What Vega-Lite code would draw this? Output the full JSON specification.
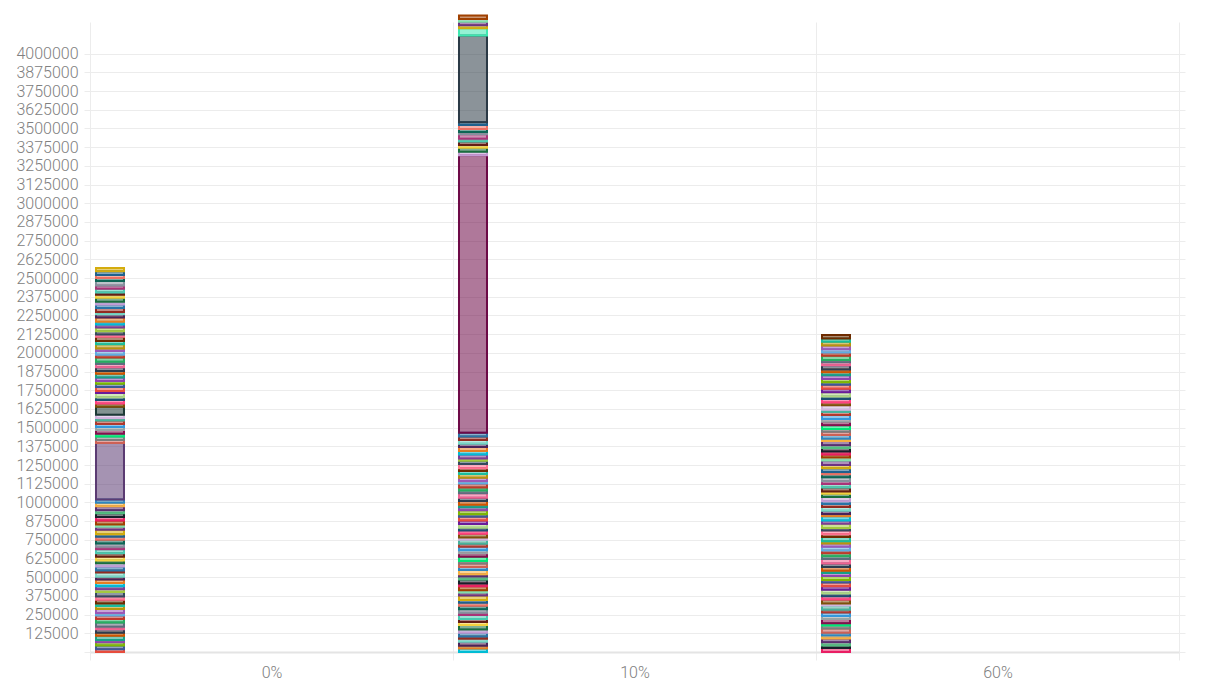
{
"$schema": "https://vega.github.io/schema/vega-lite/v6.json",
"autosize": {"type": "none"},
"padding": {"left": 90, "top": 22, "right": 30, "bottom": 28},
"width": 1089,
"height": 630,
"config": {"view": {"stroke": null}, "axis": {"labelFont": "Roboto", "labelFontSize": 16, "labelFontWeight": 300, "labelColor": "#808080"}},
"resolve": {"axis": {"y": "independent"}},
"layer": [
{
"data": {"values": [
{"x":"0%","k":1,"c":"t0","v":18000},{"x":"0%","k":2,"c":"t1","v":26000},{"x":"0%","k":3,"c":"t2","v":21000},{"x":"0%","k":4,"c":"t3","v":15000},{"x":"0%","k":5,"c":"t4","v":29000},{"x":"0%","k":6,"c":"t5","v":19000},{"x":"0%","k":7,"c":"t6","v":24000},{"x":"0%","k":8,"c":"t7","v":17000},{"x":"0%","k":9,"c":"t8","v":28000},{"x":"0%","k":10,"c":"t9","v":23000},
{"x":"0%","k":11,"c":"t10","v":24000},{"x":"0%","k":12,"c":"t11","v":17000},{"x":"0%","k":13,"c":"t12","v":27000},{"x":"0%","k":14,"c":"t13","v":20000},{"x":"0%","k":15,"c":"t14","v":16000},{"x":"0%","k":16,"c":"t15","v":25000},{"x":"0%","k":17,"c":"t16","v":22000},{"x":"0%","k":18,"c":"t17","v":30000},{"x":"0%","k":19,"c":"t18","v":19000},{"x":"0%","k":20,"c":"t19","v":20000},
{"x":"0%","k":21,"c":"t20","v":21000},{"x":"0%","k":22,"c":"t21","v":23000},{"x":"0%","k":23,"c":"t22","v":19000},{"x":"0%","k":24,"c":"t23","v":28000},{"x":"0%","k":25,"c":"t24","v":14000},{"x":"0%","k":26,"c":"t25","v":26000},{"x":"0%","k":27,"c":"t26","v":22000},{"x":"0%","k":28,"c":"t27","v":18000},{"x":"0%","k":29,"c":"t28","v":25000},{"x":"0%","k":30,"c":"t29","v":24000},
{"x":"0%","k":31,"c":"t30","v":27000},{"x":"0%","k":32,"c":"t31","v":16000},{"x":"0%","k":33,"c":"t32","v":22000},{"x":"0%","k":34,"c":"t33","v":25000},{"x":"0%","k":35,"c":"t34","v":20000},{"x":"0%","k":36,"c":"t35","v":18000},{"x":"0%","k":37,"c":"t36","v":29000},{"x":"0%","k":38,"c":"t37","v":21000},{"x":"0%","k":39,"c":"t38","v":15000},{"x":"0%","k":40,"c":"t39","v":27000},
{"x":"0%","k":41,"c":"t40","v":22000},{"x":"0%","k":42,"c":"t41","v":25000},{"x":"0%","k":43,"c":"t42","v":20000},{"x":"0%","k":44,"c":"t43","v":27000},{"x":"0%","k":45,"c":"t44","v":24000},{"x":"0%","k":46,"c":"t45","v":22000},
{"x":"0%","k":47,"c":"A","v":378000},
{"x":"0%","k":48,"c":"t46","v":20000},{"x":"0%","k":49,"c":"t47","v":23000},{"x":"0%","k":50,"c":"t48","v":18000},{"x":"0%","k":51,"c":"t49","v":25000},{"x":"0%","k":52,"c":"t50","v":21000},{"x":"0%","k":53,"c":"t51","v":19000},{"x":"0%","k":54,"c":"t52","v":24000},{"x":"0%","k":55,"c":"t53","v":17000},{"x":"0%","k":56,"c":"t54","v":22000},
{"x":"0%","k":57,"c":"B","v":53000},
{"x":"0%","k":58,"c":"t55","v":21000},{"x":"0%","k":59,"c":"t56","v":23000},{"x":"0%","k":60,"c":"t57","v":19000},{"x":"0%","k":61,"c":"t58","v":28000},{"x":"0%","k":62,"c":"t59","v":14000},{"x":"0%","k":63,"c":"t0","v":26000},{"x":"0%","k":64,"c":"t1","v":22000},{"x":"0%","k":65,"c":"t2","v":18000},{"x":"0%","k":66,"c":"t3","v":25000},{"x":"0%","k":67,"c":"t4","v":24000},
{"x":"0%","k":68,"c":"t5","v":18000},{"x":"0%","k":69,"c":"t6","v":26000},{"x":"0%","k":70,"c":"t7","v":21000},{"x":"0%","k":71,"c":"t8","v":15000},{"x":"0%","k":72,"c":"t9","v":29000},{"x":"0%","k":73,"c":"t10","v":19000},{"x":"0%","k":74,"c":"t11","v":24000},{"x":"0%","k":75,"c":"t12","v":17000},{"x":"0%","k":76,"c":"t13","v":28000},{"x":"0%","k":77,"c":"t14","v":23000},
{"x":"0%","k":78,"c":"t15","v":27000},{"x":"0%","k":79,"c":"t16","v":16000},{"x":"0%","k":80,"c":"t17","v":22000},{"x":"0%","k":81,"c":"t18","v":25000},{"x":"0%","k":82,"c":"t19","v":20000},{"x":"0%","k":83,"c":"t20","v":18000},{"x":"0%","k":84,"c":"t21","v":29000},{"x":"0%","k":85,"c":"t22","v":21000},{"x":"0%","k":86,"c":"t23","v":15000},{"x":"0%","k":87,"c":"t24","v":27000},
{"x":"0%","k":88,"c":"t25","v":24000},{"x":"0%","k":89,"c":"t26","v":17000},{"x":"0%","k":90,"c":"t27","v":27000},{"x":"0%","k":91,"c":"t28","v":20000},{"x":"0%","k":92,"c":"t29","v":16000},{"x":"0%","k":93,"c":"t30","v":25000},{"x":"0%","k":94,"c":"t31","v":22000},{"x":"0%","k":95,"c":"t32","v":30000},{"x":"0%","k":96,"c":"t33","v":19000},{"x":"0%","k":97,"c":"t34","v":20000},
{"x":"0%","k":98,"c":"t35","v":25000},{"x":"0%","k":99,"c":"t36","v":22000},
{"x":"10%","k":101,"c":"t20","v":24000},{"x":"10%","k":102,"c":"t21","v":17000},{"x":"10%","k":103,"c":"t22","v":27000},{"x":"10%","k":104,"c":"t23","v":20000},{"x":"10%","k":105,"c":"t24","v":16000},{"x":"10%","k":106,"c":"t25","v":25000},{"x":"10%","k":107,"c":"t26","v":22000},{"x":"10%","k":108,"c":"t27","v":30000},{"x":"10%","k":109,"c":"t28","v":19000},{"x":"10%","k":110,"c":"t29","v":20000},
{"x":"10%","k":111,"c":"t30","v":27000},{"x":"10%","k":112,"c":"t31","v":16000},{"x":"10%","k":113,"c":"t32","v":22000},{"x":"10%","k":114,"c":"t33","v":25000},{"x":"10%","k":115,"c":"t34","v":20000},{"x":"10%","k":116,"c":"t35","v":18000},{"x":"10%","k":117,"c":"t36","v":29000},{"x":"10%","k":118,"c":"t37","v":21000},{"x":"10%","k":119,"c":"t38","v":15000},{"x":"10%","k":120,"c":"t39","v":27000},
{"x":"10%","k":121,"c":"t40","v":18000},{"x":"10%","k":122,"c":"t41","v":26000},{"x":"10%","k":123,"c":"t42","v":21000},{"x":"10%","k":124,"c":"t43","v":15000},{"x":"10%","k":125,"c":"t44","v":29000},{"x":"10%","k":126,"c":"t45","v":19000},{"x":"10%","k":127,"c":"t46","v":24000},{"x":"10%","k":128,"c":"t47","v":17000},{"x":"10%","k":129,"c":"t48","v":28000},{"x":"10%","k":130,"c":"t49","v":23000},
{"x":"10%","k":131,"c":"t50","v":21000},{"x":"10%","k":132,"c":"t51","v":23000},{"x":"10%","k":133,"c":"t52","v":19000},{"x":"10%","k":134,"c":"t53","v":28000},{"x":"10%","k":135,"c":"t54","v":14000},{"x":"10%","k":136,"c":"t55","v":26000},{"x":"10%","k":137,"c":"t56","v":22000},{"x":"10%","k":138,"c":"t57","v":18000},{"x":"10%","k":139,"c":"t58","v":25000},{"x":"10%","k":140,"c":"t59","v":24000},
{"x":"10%","k":141,"c":"t0","v":24000},{"x":"10%","k":142,"c":"t1","v":17000},{"x":"10%","k":143,"c":"t2","v":27000},{"x":"10%","k":144,"c":"t3","v":20000},{"x":"10%","k":145,"c":"t4","v":16000},{"x":"10%","k":146,"c":"t5","v":25000},{"x":"10%","k":147,"c":"t6","v":22000},{"x":"10%","k":148,"c":"t7","v":30000},{"x":"10%","k":149,"c":"t8","v":19000},{"x":"10%","k":150,"c":"t9","v":20000},
{"x":"10%","k":151,"c":"t10","v":27000},{"x":"10%","k":152,"c":"t11","v":16000},{"x":"10%","k":153,"c":"t12","v":22000},{"x":"10%","k":154,"c":"t13","v":25000},{"x":"10%","k":155,"c":"t14","v":20000},{"x":"10%","k":156,"c":"t15","v":18000},{"x":"10%","k":157,"c":"t16","v":29000},{"x":"10%","k":158,"c":"t17","v":21000},{"x":"10%","k":159,"c":"t18","v":15000},{"x":"10%","k":160,"c":"t19","v":27000},
{"x":"10%","k":161,"c":"t20","v":24000},{"x":"10%","k":162,"c":"t21","v":26000},{"x":"10%","k":163,"c":"t22","v":23000},{"x":"10%","k":164,"c":"t23","v":25000},{"x":"10%","k":165,"c":"t24","v":22000},{"x":"10%","k":166,"c":"t25","v":26000},
{"x":"10%","k":167,"c":"C","v":1855000},
{"x":"10%","k":168,"c":"t26","v":23000},{"x":"10%","k":169,"c":"t27","v":28000},{"x":"10%","k":170,"c":"t28","v":17000},{"x":"10%","k":171,"c":"t29","v":24000},{"x":"10%","k":172,"c":"t30","v":19000},{"x":"10%","k":173,"c":"t31","v":29000},{"x":"10%","k":174,"c":"t32","v":15000},{"x":"10%","k":175,"c":"t33","v":21000},{"x":"10%","k":176,"c":"t34","v":26000},{"x":"10%","k":177,"c":"t35","v":18000},
{"x":"10%","k":178,"c":"D","v":580000},
{"x":"10%","k":179,"c":"E","v":50000},
{"x":"10%","k":180,"c":"t36","v":20000},{"x":"10%","k":181,"c":"t37","v":22000},{"x":"10%","k":182,"c":"t38","v":19000},{"x":"10%","k":183,"c":"t39","v":23000},
{"x":"60%","k":201,"c":"t40","v":27000},{"x":"60%","k":202,"c":"t41","v":16000},{"x":"60%","k":203,"c":"t42","v":22000},{"x":"60%","k":204,"c":"t43","v":25000},{"x":"60%","k":205,"c":"t44","v":20000},{"x":"60%","k":206,"c":"t45","v":18000},{"x":"60%","k":207,"c":"t46","v":29000},{"x":"60%","k":208,"c":"t47","v":21000},{"x":"60%","k":209,"c":"t48","v":15000},{"x":"60%","k":210,"c":"t49","v":27000},
{"x":"60%","k":211,"c":"t50","v":21000},{"x":"60%","k":212,"c":"t51","v":23000},{"x":"60%","k":213,"c":"t52","v":19000},{"x":"60%","k":214,"c":"t53","v":28000},{"x":"60%","k":215,"c":"t54","v":14000},{"x":"60%","k":216,"c":"t55","v":26000},{"x":"60%","k":217,"c":"t56","v":22000},{"x":"60%","k":218,"c":"t57","v":18000},{"x":"60%","k":219,"c":"t58","v":25000},{"x":"60%","k":220,"c":"t59","v":24000},
{"x":"60%","k":221,"c":"t0","v":24000},{"x":"60%","k":222,"c":"t1","v":17000},{"x":"60%","k":223,"c":"t2","v":27000},{"x":"60%","k":224,"c":"t3","v":20000},{"x":"60%","k":225,"c":"t4","v":16000},{"x":"60%","k":226,"c":"t5","v":25000},{"x":"60%","k":227,"c":"t6","v":22000},{"x":"60%","k":228,"c":"t7","v":30000},{"x":"60%","k":229,"c":"t8","v":19000},{"x":"60%","k":230,"c":"t9","v":20000},
{"x":"60%","k":231,"c":"t10","v":18000},{"x":"60%","k":232,"c":"t11","v":26000},{"x":"60%","k":233,"c":"t12","v":21000},{"x":"60%","k":234,"c":"t13","v":15000},{"x":"60%","k":235,"c":"t14","v":29000},{"x":"60%","k":236,"c":"t15","v":19000},{"x":"60%","k":237,"c":"t16","v":24000},{"x":"60%","k":238,"c":"t17","v":17000},{"x":"60%","k":239,"c":"t18","v":28000},{"x":"60%","k":240,"c":"t19","v":23000},
{"x":"60%","k":241,"c":"t20","v":27000},{"x":"60%","k":242,"c":"t21","v":16000},{"x":"60%","k":243,"c":"t22","v":22000},{"x":"60%","k":244,"c":"t23","v":25000},{"x":"60%","k":245,"c":"t24","v":20000},{"x":"60%","k":246,"c":"t25","v":18000},{"x":"60%","k":247,"c":"t26","v":29000},{"x":"60%","k":248,"c":"t27","v":21000},{"x":"60%","k":249,"c":"t28","v":15000},{"x":"60%","k":250,"c":"t29","v":27000},
{"x":"60%","k":251,"c":"t30","v":24000},{"x":"60%","k":252,"c":"t31","v":17000},{"x":"60%","k":253,"c":"t32","v":27000},{"x":"60%","k":254,"c":"t33","v":20000},{"x":"60%","k":255,"c":"t34","v":16000},{"x":"60%","k":256,"c":"t35","v":25000},{"x":"60%","k":257,"c":"t36","v":22000},{"x":"60%","k":258,"c":"t37","v":30000},{"x":"60%","k":259,"c":"t38","v":19000},{"x":"60%","k":260,"c":"t39","v":20000},
{"x":"60%","k":261,"c":"t40","v":21000},{"x":"60%","k":262,"c":"t41","v":23000},{"x":"60%","k":263,"c":"t42","v":19000},{"x":"60%","k":264,"c":"t43","v":28000},{"x":"60%","k":265,"c":"t44","v":14000},{"x":"60%","k":266,"c":"t45","v":26000},{"x":"60%","k":267,"c":"t46","v":22000},{"x":"60%","k":268,"c":"t47","v":18000},{"x":"60%","k":269,"c":"t48","v":25000},{"x":"60%","k":270,"c":"t49","v":24000},
{"x":"60%","k":271,"c":"t50","v":18000},{"x":"60%","k":272,"c":"t51","v":26000},{"x":"60%","k":273,"c":"t52","v":21000},{"x":"60%","k":274,"c":"t53","v":15000},{"x":"60%","k":275,"c":"t54","v":29000},{"x":"60%","k":276,"c":"t55","v":19000},{"x":"60%","k":277,"c":"t56","v":24000},{"x":"60%","k":278,"c":"t57","v":17000},{"x":"60%","k":279,"c":"t58","v":28000},{"x":"60%","k":280,"c":"t59","v":23000},
{"x":"60%","k":281,"c":"t0","v":27000},{"x":"60%","k":282,"c":"t1","v":16000},{"x":"60%","k":283,"c":"t2","v":22000},{"x":"60%","k":284,"c":"t3","v":25000},{"x":"60%","k":285,"c":"t4","v":20000},{"x":"60%","k":286,"c":"t5","v":18000},{"x":"60%","k":287,"c":"t6","v":29000},{"x":"60%","k":288,"c":"t7","v":21000},{"x":"60%","k":289,"c":"t8","v":15000},{"x":"60%","k":290,"c":"t9","v":27000},
{"x":"60%","k":291,"c":"t10","v":23000},{"x":"60%","k":292,"c":"t11","v":21000},{"x":"60%","k":293,"c":"t12","v":26000},{"x":"60%","k":294,"c":"t13","v":24000},{"x":"60%","k":295,"c":"t14","v":22000},{"x":"60%","k":296,"c":"t15","v":24000}
]},
"mark": {"type": "bar", "fillOpacity": 0.55, "strokeOpacity": 1, "strokeWidth": 2},
"encoding": {
"x": {"field": "x", "type": "nominal", "sort": ["0%", "10%", "60%"], "scale": {"paddingInner": 0, "paddingOuter": 0},
 "axis": {"title": null, "tickBand": "extent", "grid": true, "gridColor": "#ececec", "tickColor": "#ececec", "tickSize": 8, "domain": true, "domainColor": "#e4e4e4", "domainWidth": 2, "labelAngle": 0, "labelPadding": 4}},
"xOffset": {"datum": "a", "type": "nominal", "scale": {"domain": ["a","b","c","d","e","f","g","h","i","j","k","l"], "paddingInner": 0, "paddingOuter": 0.482, "align": 0.222}},
"y": {"field": "v", "type": "quantitative", "stack": "zero", "scale": {"domain": [0, 4212000], "nice": false},
 "axis": {"title": null, "values": [0,125000,250000,375000,500000,625000,750000,875000,1000000,1125000,1250000,1375000,1500000,1625000,1750000,1875000,2000000,2125000,2250000,2375000,2500000,2625000,2750000,2875000,3000000,3125000,3250000,3375000,3500000,3625000,3750000,3875000,4000000],
  "format": "d", "labelExpr": "datum.value == 0 ? '' : datum.label", "grid": true, "gridColor": "#ececec", "tickColor": "#ececec", "tickSize": 6, "domain": false, "labelPadding": 6}},
"order": {"field": "k", "type": "quantitative"},
"color": {"field": "c", "type": "nominal", "legend": null, "scale": {
 "domain": ["A","B","C","D","E","t0","t1","t2","t3","t4","t5","t6","t7","t8","t9","t10","t11","t12","t13","t14","t15","t16","t17","t18","t19","t20","t21","t22","t23","t24","t25","t26","t27","t28","t29","t30","t31","t32","t33","t34","t35","t36","t37","t38","t39","t40","t41","t42","t43","t44","t45","t46","t47","t48","t49","t50","t51","t52","t53","t54","t55","t56","t57","t58","t59"],
 "range": ["#5b3b72","#1c3a36","#6d0a47","#2b3a46","#3ee8b0","#e74c3c","#3b5998","#7fb800","#8e44ad","#16a085","#d35400","#2c3e50","#f06292","#5d6d7e","#27ae60","#c0392b","#5dade2","#9b59b6","#b7950b","#1abc9c","#6e2c00","#ff6f91","#34495e","#a3c940","#7d3c98","#00bcd4","#e67e22","#4a235a","#76d7c4","#922b21","#2874a6","#c39bd3","#196f3d","#f4d03f","#641e16","#48c9b0","#aa3377","#85929e","#0e6655","#ec7063","#1f618d","#d4ac0d","#6c3483","#82e0aa","#a04000","#e91e63","#17202a","#52be80","#5b2c6f","#f5b041","#2e86c1","#cd6155","#7b7d7d","#00e676","#880e4f","#99a3a4","#3498db","#b03a2e","#45b39d","#d2b4de","#7e5109","#ff4081","#1b4f72","#aed581","#6a1b9a"]}},
"stroke": {"field": "c", "type": "nominal", "legend": null, "scale": {
 "domain": ["A","B","C","D","E","t0","t1","t2","t3","t4","t5","t6","t7","t8","t9","t10","t11","t12","t13","t14","t15","t16","t17","t18","t19","t20","t21","t22","t23","t24","t25","t26","t27","t28","t29","t30","t31","t32","t33","t34","t35","t36","t37","t38","t39","t40","t41","t42","t43","t44","t45","t46","t47","t48","t49","t50","t51","t52","t53","t54","t55","t56","t57","t58","t59"],
 "range": ["#5b3b72","#1c3a36","#6d0a47","#2b3a46","#3ee8b0","#e74c3c","#3b5998","#7fb800","#8e44ad","#16a085","#d35400","#2c3e50","#f06292","#5d6d7e","#27ae60","#c0392b","#5dade2","#9b59b6","#b7950b","#1abc9c","#6e2c00","#ff6f91","#34495e","#a3c940","#7d3c98","#00bcd4","#e67e22","#4a235a","#76d7c4","#922b21","#2874a6","#c39bd3","#196f3d","#f4d03f","#641e16","#48c9b0","#aa3377","#85929e","#0e6655","#ec7063","#1f618d","#d4ac0d","#6c3483","#82e0aa","#a04000","#e91e63","#17202a","#52be80","#5b2c6f","#f5b041","#2e86c1","#cd6155","#7b7d7d","#00e676","#880e4f","#99a3a4","#3498db","#b03a2e","#45b39d","#d2b4de","#7e5109","#ff4081","#1b4f72","#aed581","#6a1b9a"]}}
}
},
{
"data": {"values": [{"v": 0}]},
"mark": {"type": "rule", "opacity": 0},
"encoding": {
"y": {"field": "v", "type": "quantitative", "scale": {"domain": [0, 4212000], "nice": false},
 "axis": {"orient": "right", "title": null, "labels": false, "grid": false, "domain": false, "tickColor": "#ececec", "tickSize": 6,
  "values": [0,125000,250000,375000,500000,625000,750000,875000,1000000,1125000,1250000,1375000,1500000,1625000,1750000,1875000,2000000,2125000,2250000,2375000,2500000,2625000,2750000,2875000,3000000,3125000,3250000,3375000,3500000,3625000,3750000,3875000,4000000]}}
}
}
]
}
